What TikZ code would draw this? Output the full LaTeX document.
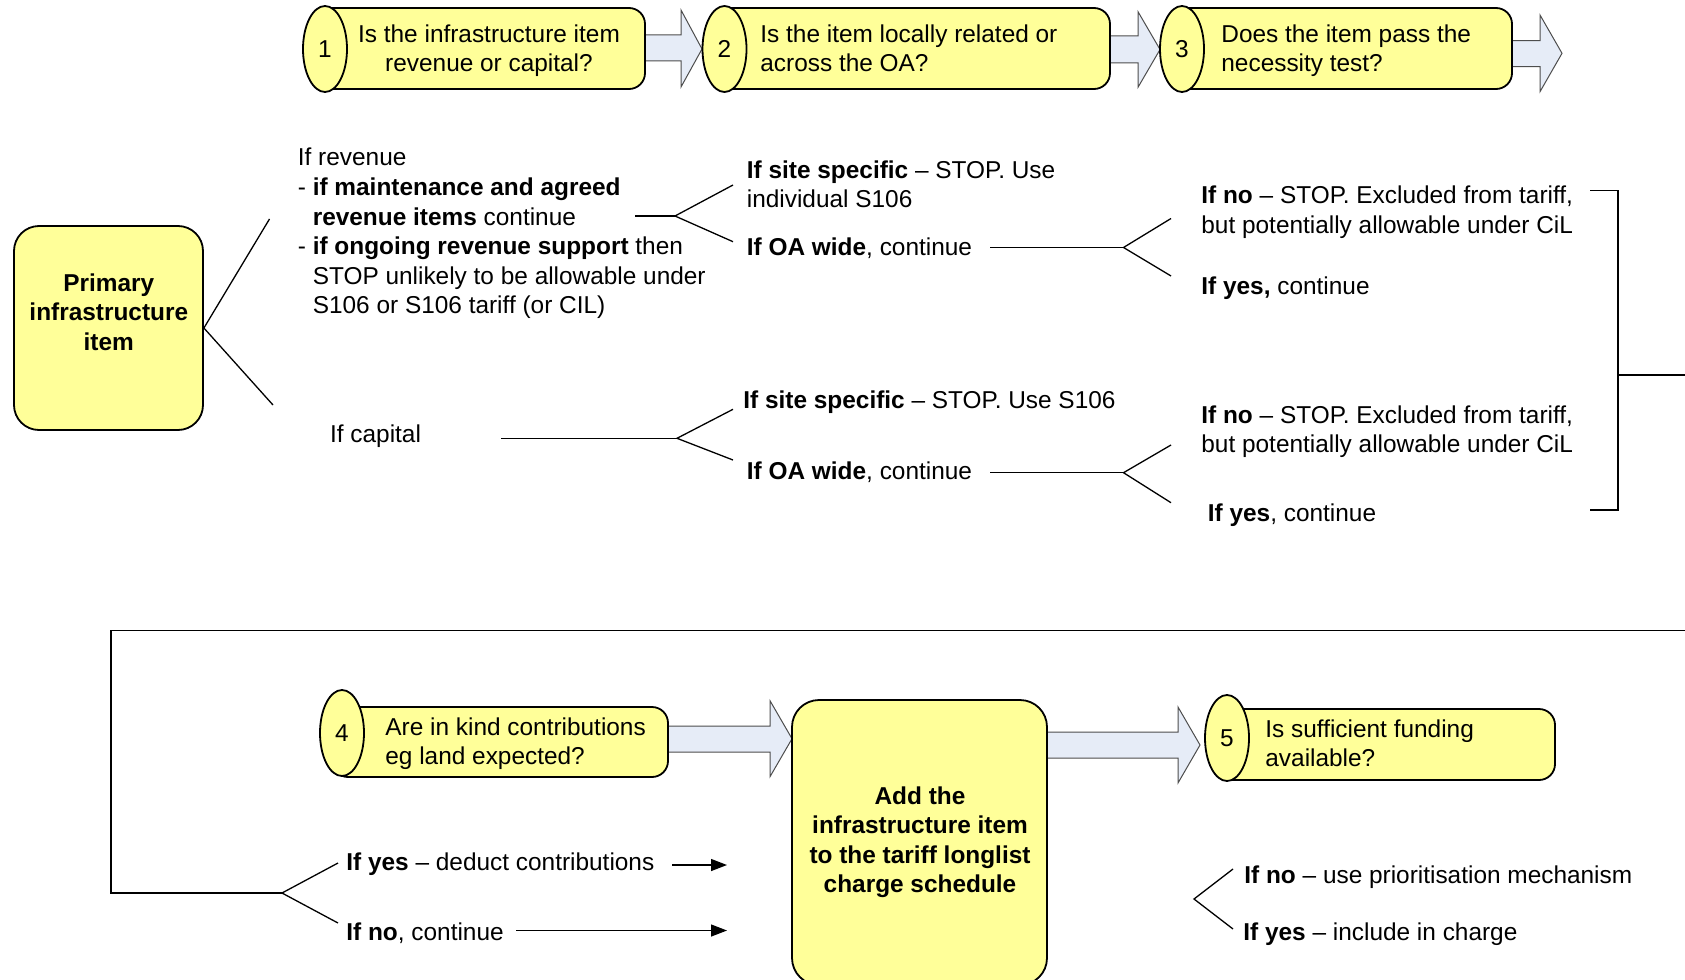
\documentclass[tikz,border=0pt]{standalone}
\usepackage{fontspec}
\setmainfont{Liberation Sans}
\usetikzlibrary{shapes.geometric,arrows.meta}
\definecolor{cylY}{HTML}{FFFF99}
\definecolor{arrB}{HTML}{E6ECF7}
\definecolor{edgeG}{HTML}{4D4D4D}
\tikzset{
  basefont/.style={font=\fontsize{12.2pt}{14.8pt}\selectfont},
  txt/.style={basefont, inner sep=0pt, align=left, anchor=north west},
  ctxt/.style={txt, align=center, anchor=north},
  btxt/.style={ctxt, font=\fontsize{12.2pt}{14.8pt}\selectfont\bfseries},
  cylbody/.style={rectangle, fill=cylY, draw=black, line width=0.9pt, rounded corners=8pt, inner sep=0pt},
  numell/.style={ellipse, fill=cylY, draw=black, line width=0.9pt, minimum width=22pt, minimum height=43pt, inner sep=0pt, basefont},
  blockarrow/.style={fill=arrB, draw=edgeG, line width=0.5pt},
  conn/.style={draw=black, line width=0.65pt},
  arr/.style={conn, -{Triangle[length=8pt,width=6pt]}},
  bigbox/.style={rectangle, fill=cylY, draw=black, line width=0.9pt, inner sep=0pt},
}
\begin{document}
\begin{tikzpicture}[x=0.5pt,y=-0.5pt]
\useasboundingbox (0,0) rectangle (1685,979);
\clip (0,0) rectangle (1685,979);

% ---------- block arrows (behind cylinders) ----------
\path[blockarrow] (640,35) -- (681,35) -- (681,10) -- (702,49) -- (681,87) -- (681,61) -- (640,61) -- cycle;
\path[blockarrow] (1100,36) -- (1138,36) -- (1138,11.7) -- (1160,49.5) -- (1138,87.3) -- (1138,63) -- (1100,63) -- cycle;
\path[blockarrow] (1500,40.7) -- (1540,40.7) -- (1540,15) -- (1562,53.3) -- (1540,91.7) -- (1540,66.7) -- (1500,66.7) -- cycle;
\path[blockarrow] (650,726) -- (770,726) -- (770,700.7) -- (792,738.7) -- (770,776.7) -- (770,752) -- (650,752) -- cycle;
\path[blockarrow] (1030,732) -- (1178,732) -- (1178,707) -- (1200,745) -- (1178,783) -- (1178,758) -- (1030,758) -- cycle;

% ---------- cylinders ----------
\node[cylbody, minimum width=165pt, minimum height=40.5pt] (b1) at (480,48.5) {};
\node[numell] (e1) at (325,49) {1};
\node[ctxt] (t1) at (489,24) {Is the infrastructure item\\revenue or capital?};

\node[cylbody, minimum width=198pt, minimum height=40.5pt] (b2) at (912,48.5) {};
\node[numell] (e2) at (724.5,49) {2};
\node[txt] (t2) at (760,24) {Is the item locally related or\\across the OA?};

\node[cylbody, minimum width=170pt, minimum height=40.5pt] (b3) at (1342,48.5) {};
\node[numell] (e3) at (1182,49) {3};
\node[txt] (t3) at (1221,24) {Does the item pass the\\necessity test?};

\node[cylbody, minimum width=168pt, minimum height=35pt] (b4) at (500,742) {};
\node[numell] (e4) at (342,733) {4};
\node[txt] (t4) at (385,717.2) {Are in kind contributions\\eg land expected?};

\node[cylbody, minimum width=169pt, minimum height=35.5pt] (b5) at (1386,744.5) {};
\node[numell] (e5) at (1227,738) {5};
\node[txt] (t5) at (1265,719) {Is sufficient funding\\available?};

% ---------- big boxes ----------
\node[bigbox, rounded corners=12.5pt, minimum width=94.5pt, minimum height=102pt] (prim) at (108.5,328) {};
\node[btxt] (primt) at (108.8,273) {Primary\\infrastructure\\item};

\node[bigbox, rounded corners=13.5pt, minimum width=127.5pt, minimum height=142.5pt] (add) at (919.5,842.5) {};
\node[btxt] (addt) at (920,786) {Add the\\infrastructure item\\to the tariff longlist\\charge schedule};

% ---------- texts ----------
\node[txt] (rev) at (297.5,147.8) {If revenue\\- \textbf{if maintenance and agreed}\\\hphantom{- }\textbf{revenue items} continue\\- \textbf{if ongoing revenue support} then\\\hphantom{- }STOP unlikely to be allowable under\\\hphantom{- }S106 or S106 tariff (or CIL)};
\node[txt] (cap) at (329.7,424) {If capital};
\node[txt] (ss1) at (746.5,160) {\textbf{If site specific} – STOP. Use\\individual S106};
\node[txt] (oa1) at (746.5,237) {\textbf{If OA wide}, continue};
\node[txt] (ss2) at (743,390) {\textbf{If site specific} – STOP. Use S106};
\node[txt] (oa2) at (746.5,461.7) {\textbf{If OA wide}, continue};
\node[txt] (no1) at (1201,185.7) {\textbf{If no} – STOP. Excluded from tariff,\\but potentially allowable under CiL};
\node[txt] (yes1) at (1201,276) {\textbf{If yes,} continue};
\node[txt] (no2) at (1201,405.3) {\textbf{If no} – STOP. Excluded from tariff,\\but potentially allowable under CiL};
\node[txt] (yes2) at (1207.5,503.7) {\textbf{If yes}, continue};
\node[txt] (yesd) at (346,852.7) {\textbf{If yes} – deduct contributions};
\node[txt] (nocont) at (346,922.7) {\textbf{If no}, continue};
\node[txt] (nopri) at (1244,865) {\textbf{If no} – use prioritisation mechanism};
\node[txt] (yesinc) at (1243,922.7) {\textbf{If yes} – include in charge};

% ---------- connector coordinates ----------
\coordinate (pt) at (269.5,219);
\coordinate (pb) at (273,405);
\coordinate (rvs) at (635,216);
\coordinate (rvv) at (675,216);
\coordinate (rvt) at (733,185);
\coordinate (rvb) at (733,241.7);
\coordinate (oa1s) at (990,247.5);
\coordinate (oa1v) at (1123.5,247.5);
\coordinate (oa1t) at (1171,218.5);
\coordinate (oa1b) at (1171,276);
\coordinate (cps) at (501,438.3);
\coordinate (cpv) at (677,438.3);
\coordinate (cpt) at (733,409.3);
\coordinate (cpb) at (733,460);
\coordinate (oa2s) at (990,472.7);
\coordinate (oa2v) at (1123.5,472.7);
\coordinate (oa2t) at (1171,445);
\coordinate (oa2b) at (1171,502.7);
\coordinate (bt1) at (1590,190.5);
\coordinate (bt2) at (1618,190.5);
\coordinate (bb2) at (1618,510);
\coordinate (bb1) at (1590,510);
\coordinate (bm) at (1618,375);
\coordinate (bmr) at (1685,375);
\coordinate (lr) at (1685,630.5);
\coordinate (ltl) at (111,630.5);
\coordinate (lbl) at (111,893);
\coordinate (lv) at (282,893);
\coordinate (lt) at (338,863);
\coordinate (lb) at (338,923);
\coordinate (ays) at (672,865);
\coordinate (aye) at (727,865);
\coordinate (ans) at (516,930.5);
\coordinate (ane) at (727,930.5);
\coordinate (brv) at (1194,899);
\coordinate (brt) at (1233,869);
\coordinate (brb) at (1233,929);

% ---------- connectors ----------
\draw[conn] (pt) -- (prim.east) -- (pb);
\draw[conn] (rvs) -- (rvv);
\draw[conn] (rvt) -- (rvv) -- (rvb);
\draw[conn] (oa1s) -- (oa1v);
\draw[conn] (oa1t) -- (oa1v) -- (oa1b);
\draw[conn] (cps) -- (cpv);
\draw[conn] (cpt) -- (cpv) -- (cpb);
\draw[conn] (oa2s) -- (oa2v);
\draw[conn] (oa2t) -- (oa2v) -- (oa2b);
\draw[conn] (bt1) -- (bt2) -- (bb2) -- (bb1);
\draw[conn] (bm) -- (bmr);
\draw[conn] (lr) -- (ltl) -- (lbl) -- (lv);
\draw[conn] (lt) -- (lv) -- (lb);
\draw[arr] (ays) -- (aye);
\draw[arr] (ans) -- (ane);
\draw[conn] (brt) -- (brv) -- (brb);
\end{tikzpicture}
\end{document}
